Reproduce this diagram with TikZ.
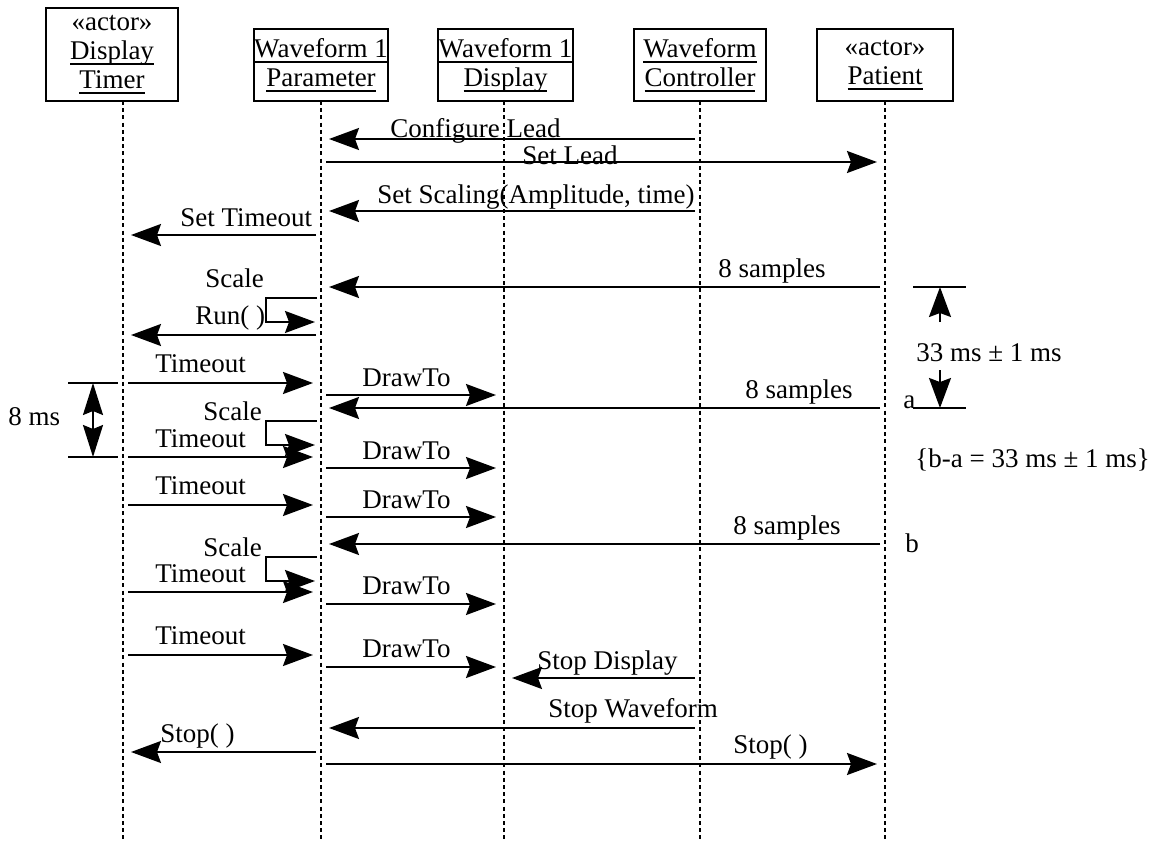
\documentclass[tikz,border=0pt]{standalone}
\usepackage{fontspec}
\setmainfont{Liberation Serif}
\usetikzlibrary{arrows.meta}
\newsavebox\ulsave
\newcommand\ulbox[1]{\sbox\ulsave{#1}\rlap{\rule[-3pt]{\wd\ulsave}{1pt}}\usebox\ulsave}
\begin{document}
\begin{tikzpicture}[x=0.5pt,y=-0.5pt,
  txt/.style={font=\fontsize{13.5}{14.5}\selectfont},
  lbl/.style={txt, inner sep=0pt, anchor=base west},
  obj/.style={draw, line width=0.8pt, txt, align=center, inner sep=0pt},
  life/.style={line width=1pt, dash pattern=on 2pt off 1.6pt},
  tip/.style={-{Stealth[length=15pt,width=11pt,inset=2pt]}},
  msg/.style={line width=1pt, tip, shorten <=2.5pt, shorten >=4pt},
  selfmsg/.style={line width=1pt, tip, shorten <=2pt, shorten >=3pt},
  tick/.style={line width=1pt},
]
\useasboundingbox (0,0) rectangle (1153,841);
\fill[white] (0,0) rectangle (1153,841);

% objects
\node[obj, minimum width=66pt, minimum height=46.5pt] (dt) at (112,54.5)
  {«actor»\\\ulbox{Display}\\\ulbox{Timer}};
\node[obj, minimum width=67pt, minimum height=36pt] (par) at (321,65)
  {\ulbox{Waveform 1}\\\ulbox{Parameter}};
\node[obj, minimum width=67.5pt, minimum height=36pt] (dis) at (505.5,65)
  {\ulbox{Waveform 1}\\\ulbox{Display}};
\node[obj, minimum width=66pt, minimum height=36pt] (ctl) at (700,65)
  {\ulbox{Waveform}\\\ulbox{Controller}};
\node[obj, minimum width=68pt, minimum height=36pt] (pat) at (885,65)
  {«actor»\\\ulbox{Patient}};

% lifelines
\coordinate (Ldt)  at (123,101);
\coordinate (Lpar) at (321,101);
\coordinate (Ldis) at (504,101);
\coordinate (Lctl) at (700,101);
\coordinate (Lpat) at (885,101);
\foreach \l in {Ldt,Lpar,Ldis,Lctl,Lpat}
  \draw[life] (\l) -- (\l |- 0,841);

% messages
\draw[msg] (Lctl |- 0,139) -- (Lpar |- 0,139);
\node[lbl] (m1) at (390,137) {Configure Lead};
\draw[msg] (Lpar |- 0,162) -- (Lpat |- 0,162);
\node[lbl] (m2) at (522,164) {Set Lead};
\draw[msg] (Lctl |- 0,211) -- (Lpar |- 0,211);
\node[lbl] (m3) at (377,203) {Set Scaling(Amplitude, time)};
\draw[msg] (Lpar |- 0,235) -- (Ldt |- 0,235);
\node[lbl] (m4) at (180,226) {Set Timeout};
\draw[msg] (Lpat |- 0,287) -- (Lpar |- 0,287);
\node[lbl] (m5) at (718,277) {8 samples};
\draw[selfmsg] (Lpar |- 0,298) -- (266,298) |- (Lpar |- 0,322);
\node[lbl] (m6) at (205,287) {Scale};
\draw[msg] (Lpar |- 0,335) -- (Ldt |- 0,335);
\node[lbl] (m7) at (195,324) {Run( )};
\draw[msg] (Ldt |- 0,383) -- (Lpar |- 0,383);
\node[lbl] (m8) at (155,372) {Timeout};
\draw[msg] (Lpar |- 0,395) -- (Ldis |- 0,395);
\node[lbl] (m9) at (362,386) {DrawTo};
\draw[msg] (Lpat |- 0,408) -- (Lpar |- 0,408);
\node[lbl] (m10) at (745,398) {8 samples};
\draw[selfmsg] (Lpar |- 0,421) -- (266,421) |- (Lpar |- 0,445);
\node[lbl] (m11) at (203,420) {Scale};
\draw[msg] (Ldt |- 0,457) -- (Lpar |- 0,457);
\node[lbl] (m12) at (155,447) {Timeout};
\draw[msg] (Lpar |- 0,468) -- (Ldis |- 0,468);
\node[lbl] (m13) at (362,459) {DrawTo};
\draw[msg] (Ldt |- 0,505) -- (Lpar |- 0,505);
\node[lbl] (m14) at (155,494) {Timeout};
\draw[msg] (Lpar |- 0,517) -- (Ldis |- 0,517);
\node[lbl] (m15) at (362,508) {DrawTo};
\draw[msg] (Lpat |- 0,544) -- (Lpar |- 0,544);
\node[lbl] (m16) at (733,534) {8 samples};
\draw[selfmsg] (Lpar |- 0,557) -- (266,557) |- (Lpar |- 0,581);
\node[lbl] (m17) at (203,556) {Scale};
\draw[msg] (Ldt |- 0,592) -- (Lpar |- 0,592);
\node[lbl] (m18) at (155,582) {Timeout};
\draw[msg] (Lpar |- 0,604) -- (Ldis |- 0,604);
\node[lbl] (m19) at (362,594) {DrawTo};
\draw[msg] (Ldt |- 0,655) -- (Lpar |- 0,655);
\node[lbl] (m20) at (155,644) {Timeout};
\draw[msg] (Lpar |- 0,667) -- (Ldis |- 0,667);
\node[lbl] (m21) at (362,657) {DrawTo};
\draw[msg] (Lctl |- 0,678) -- (Ldis |- 0,678);
\node[lbl] (m22) at (537,669) {Stop Display};
\draw[msg] (Lctl |- 0,728) -- (Lpar |- 0,728);
\node[lbl] (m23) at (548,717) {Stop Waveform};
\draw[msg] (Lpar |- 0,752) -- (Ldt |- 0,752);
\node[lbl] (m24) at (160,742) {Stop( )};
\draw[msg] (Lpar |- 0,764) -- (Lpat |- 0,764);
\node[lbl] (m25) at (733,753) {Stop( )};

% 8 ms timing mark
\coordinate (t8a) at (93,383);
\coordinate (t8b) at (93,457);
\draw[tick] (68,383) -- (118,383);
\draw[tick] (68,457) -- (118,457);
\draw[line width=1pt, {Stealth[length=16pt,width=10pt,inset=2pt]}-{Stealth[length=16pt,width=10pt,inset=2pt]}] (t8a) -- (t8b);
\node[lbl] (ms8) at (8,425) {8 ms};

% 33 ms timing mark
\coordinate (t33a) at (940,287);
\coordinate (t33b) at (940,408);
\coordinate (t33c) at (940,322);
\coordinate (t33d) at (940,370);
\draw[tick] (913,287) -- (966,287);
\draw[tick] (913,408) -- (966,408);
\draw[line width=1pt, tip] (t33c) -- (t33a);
\draw[line width=1pt, tip] (t33d) -- (t33b);
\node[lbl] (ms33) at (916,361) {33 ms ± 1 ms};
\node[lbl] (ta) at (903,408) {a};
\node[lbl] (tc) at (915,467) {\{b-a = 33 ms ± 1 ms\}};
\node[lbl] (tb) at (905,552) {b};
\end{tikzpicture}
\end{document}
